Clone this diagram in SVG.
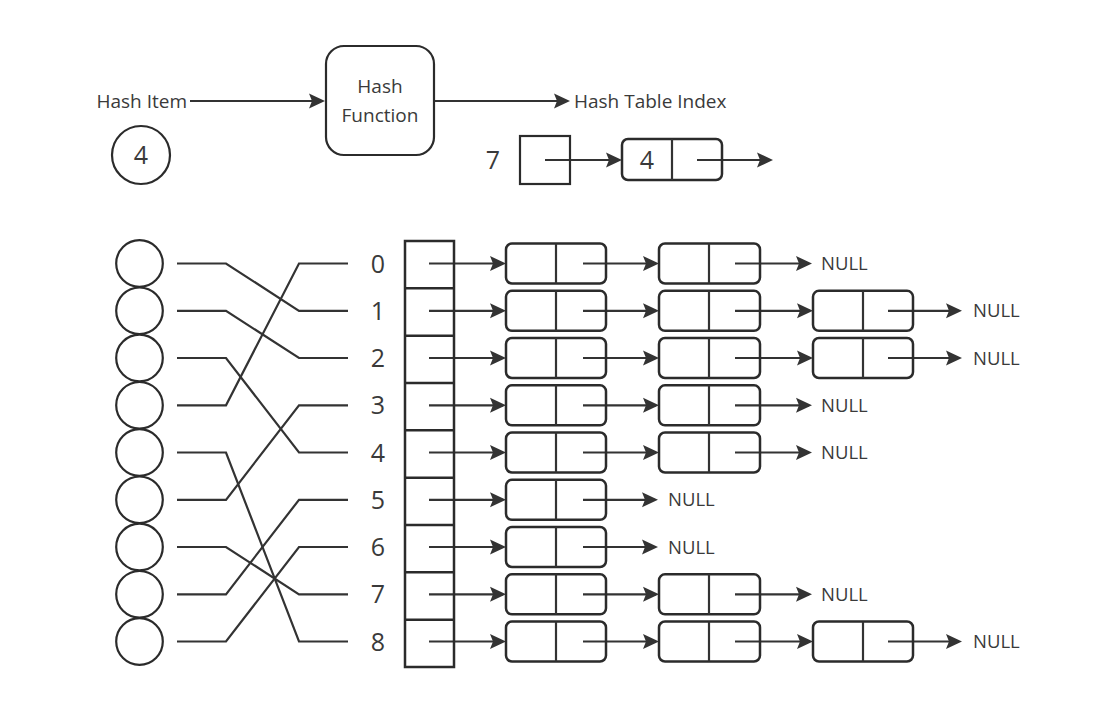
<svg xmlns="http://www.w3.org/2000/svg" width="1103" height="707" viewBox="0 0 1103 707">
<defs>
<marker id="ah" markerUnits="userSpaceOnUse" markerWidth="16" markerHeight="16" viewBox="0 0 16 16" refX="13" refY="8" orient="auto">
<path d="M0,0.5 L16,8 L0,15.5 L3,8 z" fill="#333"/>
</marker>
<style>
.ln{stroke:#333;stroke-width:2.2;fill:none}
.ar{stroke:#333;stroke-width:2.2;fill:none;marker-end:url(#ah)}
.bx{stroke:#2b2b2b;stroke-width:2.2;fill:#fff}
.nd{stroke:#2b2b2b;stroke-width:2.5;fill:none}
.t{font-family:"Open Sans","Liberation Sans",sans-serif;fill:#3a3a3a}
.s{font-size:19px}
.n{font-size:18.5px}
.d{font-size:25px;text-anchor:middle}
</style>
</defs>
<rect width="1103" height="707" fill="#fff"/>

<g id="connectors">
<line class="ar" x1="190" y1="101" x2="322" y2="101"/>
<line class="ar" x1="434" y1="101" x2="567" y2="101"/>
<line class="ar" x1="545" y1="160" x2="619" y2="160"/>
<line class="ar" x1="697" y1="160" x2="770" y2="160"/>
<polyline class="ln" points="177,263.5 226,263.5 299,310.8 348,310.8"/>
<polyline class="ln" points="177,310.8 226,310.8 299,358 348,358"/>
<polyline class="ln" points="177,358 226,358 299,452.5 348,452.5"/>
<polyline class="ln" points="177,405.3 226,405.3 299,263.5 348,263.5"/>
<polyline class="ln" points="177,452.5 226,452.5 299,641.5 348,641.5"/>
<polyline class="ln" points="177,499.8 226,499.8 299,405.3 348,405.3"/>
<polyline class="ln" points="177,547 226,547 299,594.3 348,594.3"/>
<polyline class="ln" points="177,594.3 226,594.3 299,499.8 348,499.8"/>
<polyline class="ln" points="177,641.5 226,641.5 299,547 348,547"/>
<line class="ar" x1="429" y1="263.5" x2="503" y2="263.5"/>
<line class="ar" x1="429" y1="310.8" x2="503" y2="310.8"/>
<line class="ar" x1="429" y1="358" x2="503" y2="358"/>
<line class="ar" x1="429" y1="405.3" x2="503" y2="405.3"/>
<line class="ar" x1="429" y1="452.5" x2="503" y2="452.5"/>
<line class="ar" x1="429" y1="499.8" x2="503" y2="499.8"/>
<line class="ar" x1="429" y1="547" x2="503" y2="547"/>
<line class="ar" x1="429" y1="594.3" x2="503" y2="594.3"/>
<line class="ar" x1="429" y1="641.5" x2="503" y2="641.5"/>
<line class="ar" x1="583" y1="263.5" x2="656" y2="263.5"/>
<line class="ar" x1="583" y1="310.8" x2="656" y2="310.8"/>
<line class="ar" x1="583" y1="358" x2="656" y2="358"/>
<line class="ar" x1="583" y1="405.3" x2="656" y2="405.3"/>
<line class="ar" x1="583" y1="452.5" x2="656" y2="452.5"/>
<line class="ar" x1="583" y1="499.8" x2="655" y2="499.8"/>
<line class="ar" x1="583" y1="547" x2="655" y2="547"/>
<line class="ar" x1="583" y1="594.3" x2="656" y2="594.3"/>
<line class="ar" x1="583" y1="641.5" x2="656" y2="641.5"/>
<line class="ar" x1="735" y1="263.5" x2="809" y2="263.5"/>
<line class="ar" x1="735" y1="310.8" x2="810" y2="310.8"/>
<line class="ar" x1="735" y1="358" x2="810" y2="358"/>
<line class="ar" x1="735" y1="405.3" x2="809" y2="405.3"/>
<line class="ar" x1="735" y1="452.5" x2="809" y2="452.5"/>
<line class="ar" x1="735" y1="594.3" x2="809" y2="594.3"/>
<line class="ar" x1="735" y1="641.5" x2="810" y2="641.5"/>
<line class="ar" x1="888" y1="310.8" x2="959" y2="310.8"/>
<line class="ar" x1="888" y1="358" x2="959" y2="358"/>
<line class="ar" x1="888" y1="641.5" x2="959" y2="641.5"/>
</g>

<g id="hash-item">
<text class="t s" x="187" y="107.5" text-anchor="end">Hash Item</text>
<circle class="bx" cx="141" cy="155" r="29"/>
<text class="t d" x="141" y="164">4</text>
</g>

<g id="hash-function">
<rect class="bx" x="326" y="46" width="108" height="109" rx="18"/>
<text class="t s" x="380" y="93" text-anchor="middle">Hash</text>
<text class="t s" x="380" y="122" text-anchor="middle">Function</text>
</g>

<g id="hash-table-index">
<text class="t s" x="574" y="107.5">Hash Table Index</text>
<text class="t d" x="493" y="169">7</text>
<rect x="520" y="136" width="50" height="48" fill="none" stroke="#2b2b2b" stroke-width="2.2"/>
<rect class="nd" x="622" y="139" width="100" height="41" rx="6"/>
<line class="ln" x1="672" y1="139" x2="672" y2="180"/>
<text class="t d" x="647" y="169">4</text>
</g>

<g id="items">
<circle class="bx" cx="139.5" cy="263.5" r="23.3"/>
<circle class="bx" cx="139.5" cy="310.8" r="23.3"/>
<circle class="bx" cx="139.5" cy="358" r="23.3"/>
<circle class="bx" cx="139.5" cy="405.3" r="23.3"/>
<circle class="bx" cx="139.5" cy="452.5" r="23.3"/>
<circle class="bx" cx="139.5" cy="499.8" r="23.3"/>
<circle class="bx" cx="139.5" cy="547" r="23.3"/>
<circle class="bx" cx="139.5" cy="594.3" r="23.3"/>
<circle class="bx" cx="139.5" cy="641.5" r="23.3"/>
</g>

<g id="indices">
<text class="t d" x="378" y="272.5">0</text>
<text class="t d" x="378" y="319.8">1</text>
<text class="t d" x="378" y="367">2</text>
<text class="t d" x="378" y="414.3">3</text>
<text class="t d" x="378" y="461.5">4</text>
<text class="t d" x="378" y="508.8">5</text>
<text class="t d" x="378" y="556">6</text>
<text class="t d" x="378" y="603.3">7</text>
<text class="t d" x="378" y="650.5">8</text>
</g>

<g id="hash-table">
<rect x="405" y="241" width="49" height="426" fill="none" stroke="#2b2b2b" stroke-width="2.5"/>
<g stroke="#2b2b2b" stroke-width="2.5">
<line x1="405" y1="288.3" x2="454" y2="288.3"/>
<line x1="405" y1="335.7" x2="454" y2="335.7"/>
<line x1="405" y1="383" x2="454" y2="383"/>
<line x1="405" y1="430.3" x2="454" y2="430.3"/>
<line x1="405" y1="477.7" x2="454" y2="477.7"/>
<line x1="405" y1="525" x2="454" y2="525"/>
<line x1="405" y1="572.3" x2="454" y2="572.3"/>
<line x1="405" y1="619.7" x2="454" y2="619.7"/>
</g>
</g>

<g id="nodes">
<g id="r0">
<rect class="nd" x="506" y="243.5" width="100" height="40" rx="6"/><line class="ln" x1="556" y1="243.5" x2="556" y2="283.5"/>
<rect class="nd" x="659" y="243.5" width="101" height="40" rx="6"/><line class="ln" x1="709" y1="243.5" x2="709" y2="283.5"/>
<text class="t n" x="821" y="270">NULL</text>
</g>
<g id="r1">
<rect class="nd" x="506" y="290.8" width="100" height="40" rx="6"/><line class="ln" x1="556" y1="290.8" x2="556" y2="330.8"/>
<rect class="nd" x="659" y="290.8" width="101" height="40" rx="6"/><line class="ln" x1="709" y1="290.8" x2="709" y2="330.8"/>
<rect class="nd" x="813" y="290.8" width="100" height="40" rx="6"/><line class="ln" x1="863" y1="290.8" x2="863" y2="330.8"/>
<text class="t n" x="973" y="317.3">NULL</text>
</g>
<g id="r2">
<rect class="nd" x="506" y="338" width="100" height="40" rx="6"/><line class="ln" x1="556" y1="338" x2="556" y2="378"/>
<rect class="nd" x="659" y="338" width="101" height="40" rx="6"/><line class="ln" x1="709" y1="338" x2="709" y2="378"/>
<rect class="nd" x="813" y="338" width="100" height="40" rx="6"/><line class="ln" x1="863" y1="338" x2="863" y2="378"/>
<text class="t n" x="973" y="364.5">NULL</text>
</g>
<g id="r3">
<rect class="nd" x="506" y="385.3" width="100" height="40" rx="6"/><line class="ln" x1="556" y1="385.3" x2="556" y2="425.3"/>
<rect class="nd" x="659" y="385.3" width="101" height="40" rx="6"/><line class="ln" x1="709" y1="385.3" x2="709" y2="425.3"/>
<text class="t n" x="821" y="411.8">NULL</text>
</g>
<g id="r4">
<rect class="nd" x="506" y="432.5" width="100" height="40" rx="6"/><line class="ln" x1="556" y1="432.5" x2="556" y2="472.5"/>
<rect class="nd" x="659" y="432.5" width="101" height="40" rx="6"/><line class="ln" x1="709" y1="432.5" x2="709" y2="472.5"/>
<text class="t n" x="821" y="459">NULL</text>
</g>
<g id="r5">
<rect class="nd" x="506" y="479.8" width="100" height="40" rx="6"/><line class="ln" x1="556" y1="479.8" x2="556" y2="519.8"/>
<text class="t n" x="668" y="506.3">NULL</text>
</g>
<g id="r6">
<rect class="nd" x="506" y="527" width="100" height="40" rx="6"/><line class="ln" x1="556" y1="527" x2="556" y2="567"/>
<text class="t n" x="668" y="553.5">NULL</text>
</g>
<g id="r7">
<rect class="nd" x="506" y="574.3" width="100" height="40" rx="6"/><line class="ln" x1="556" y1="574.3" x2="556" y2="614.3"/>
<rect class="nd" x="659" y="574.3" width="101" height="40" rx="6"/><line class="ln" x1="709" y1="574.3" x2="709" y2="614.3"/>
<text class="t n" x="821" y="600.8">NULL</text>
</g>
<g id="r8">
<rect class="nd" x="506" y="621.5" width="100" height="40" rx="6"/><line class="ln" x1="556" y1="621.5" x2="556" y2="661.5"/>
<rect class="nd" x="659" y="621.5" width="101" height="40" rx="6"/><line class="ln" x1="709" y1="621.5" x2="709" y2="661.5"/>
<rect class="nd" x="813" y="621.5" width="100" height="40" rx="6"/><line class="ln" x1="863" y1="621.5" x2="863" y2="661.5"/>
<text class="t n" x="973" y="648">NULL</text>
</g>
</g>
</svg>
